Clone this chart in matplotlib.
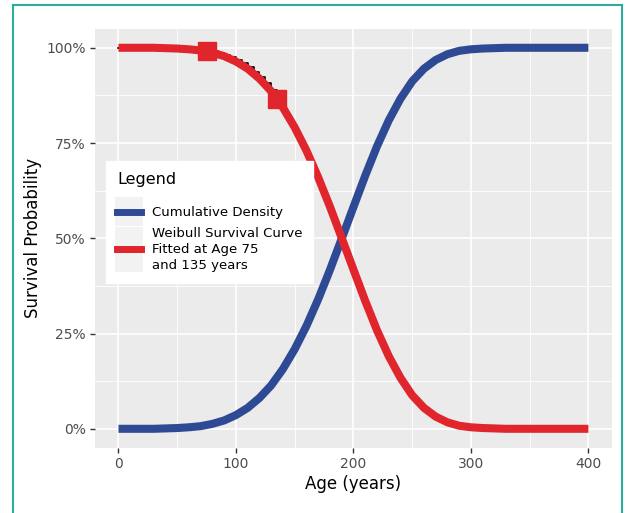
import matplotlib
matplotlib.use("Agg")
import matplotlib.pyplot as plt
from matplotlib.lines import Line2D
from matplotlib.patches import Rectangle
from matplotlib.legend_handler import HandlerLine2D
from matplotlib.ticker import FuncFormatter, MultipleLocator

# values
age = [0, 10, 20, 30, 40, 50, 60, 70, 80, 90, 100, 110, 120, 130, 140, 150,
       160, 170, 180, 190, 200, 210, 220, 230, 240, 250, 260, 270, 280, 290,
       300, 310, 320, 330, 340, 360, 380, 400]
survival = [1.000, 1.000, 1.000, 1.000, 0.999, 0.998, 0.996, 0.993, 0.987,
            0.978, 0.964, 0.945, 0.919, 0.886, 0.843, 0.791, 0.730, 0.660,
            0.583, 0.501, 0.418, 0.336, 0.259, 0.191, 0.134, 0.088, 0.055,
            0.032, 0.017, 0.008, 0.004, 0.002, 0.001, 0.000, 0.000, 0.000,
            0.000, 0.000]
cumulative = [0.000, 0.000, 0.000, 0.000, 0.001, 0.002, 0.004, 0.007, 0.013,
              0.022, 0.036, 0.055, 0.081, 0.114, 0.157, 0.209, 0.270, 0.340,
              0.417, 0.499, 0.582, 0.664, 0.741, 0.809, 0.866, 0.912, 0.945,
              0.968, 0.983, 0.992, 0.996, 0.998, 0.999, 1.000, 1.000, 1.000,
              1.000, 1.000]

# observed (Kaplan-Meier style) steps, mostly hidden under the fitted curve
km_age = [0, 60, 75, 80, 85, 90, 95, 100, 105, 110, 115, 120, 125, 130, 135,
          142]
km_surv = [1.000, 0.999, 0.993, 0.991, 0.987, 0.982, 0.975, 0.968, 0.959,
           0.949, 0.937, 0.923, 0.907, 0.890, 0.870, 0.868]

fit_age = [75, 135]
fit_surv = [0.991, 0.866]

red = "#E0252C"
blue = "#2E4A94"


class KeyHandler(HandlerLine2D):
    # ggplot-like legend key: line on a light grey square
    def __init__(self, key_h, **kw):
        super().__init__(**kw)
        self.key_h = key_h

    def create_artists(self, legend, orig_handle, xdescent, ydescent,
                       width, height, fontsize, trans):
        arts = super().create_artists(legend, orig_handle, xdescent, ydescent,
                                      width, height, fontsize, trans)
        yc = (height - ydescent) / 2.0
        bg = Rectangle((-xdescent - 1.5, yc - self.key_h / 2.0), width + 3,
                       self.key_h, facecolor="#F2F2F2", edgecolor="none",
                       transform=trans)
        return [bg] + list(arts)


fig = plt.figure(figsize=(6.25, 5.13), dpi=100)
ax = fig.add_axes([0.152, 0.127, 0.827, 0.817])
ax.set_facecolor("#EBEBEB")

ax.step(km_age, km_surv, where="post", color="black", lw=1.2, zorder=2)
ax.plot(age, cumulative, color=blue, lw=5.8, solid_capstyle="butt", zorder=3)
ax.plot(age, survival, color=red, lw=5.8, solid_capstyle="butt", zorder=4)
ax.plot(fit_age, fit_surv, "s", color=red, ms=13, zorder=5)

ax.set_xlim(-20, 420)
ax.set_ylim(-0.05, 1.05)
ax.xaxis.set_major_locator(MultipleLocator(100))
ax.xaxis.set_minor_locator(MultipleLocator(50))
ax.yaxis.set_major_locator(MultipleLocator(0.25))
ax.yaxis.set_minor_locator(MultipleLocator(0.125))
ax.yaxis.set_major_formatter(FuncFormatter(lambda v, p: "%d%%" % round(v * 100)))
ax.grid(which="major", color="white", lw=1.2)
ax.grid(which="minor", color="white", lw=0.6)
ax.set_axisbelow(True)
for s in ax.spines.values():
    s.set_visible(False)
ax.tick_params(which="major", length=3.5, width=1, color="#333333",
               labelcolor="#4D4D4D", labelsize=10, pad=3)
ax.tick_params(which="minor", length=0)

ax.set_xlabel("Age (years)", fontsize=12, labelpad=3)
ax.set_ylabel("Survival Probability", fontsize=12, labelpad=3)

h_blue = Line2D([], [], color=blue, lw=5)
h_red = Line2D([], [], color=red, lw=5)
labels = ["Cumulative Density",
          "Weibull Survival Curve\nFitted at Age 75\nand 135 years"]
leg = ax.legend([h_blue, h_red], labels, title="Legend", loc="upper left",
                bbox_to_anchor=(0.0, 0.712), fontsize=9.5, title_fontsize=11.5,
                frameon=True, fancybox=False, framealpha=1, edgecolor="white",
                handlelength=1.8, handletextpad=0.8, labelspacing=0.55,
                borderpad=0.85, borderaxespad=0.85,
                handler_map={h_blue: KeyHandler(21), h_red: KeyHandler(33)})
leg._legend_box.align = "left"
leg._legend_box.sep = 14
leg.get_texts()[1].set_linespacing(1.3)
leg.get_frame().set_facecolor("white")

# teal frame around the figure
for xs, ys in [([0.021, 0.995], [0.99, 0.99]), ([0.021, 0.021], [0.0, 0.99]),
               ([0.995, 0.995], [0.0, 0.99])]:
    fig.add_artist(Line2D(xs, ys, transform=fig.transFigure,
                          color="#2BAE9A", lw=1.5))

fig.savefig("out.png", dpi=100)
